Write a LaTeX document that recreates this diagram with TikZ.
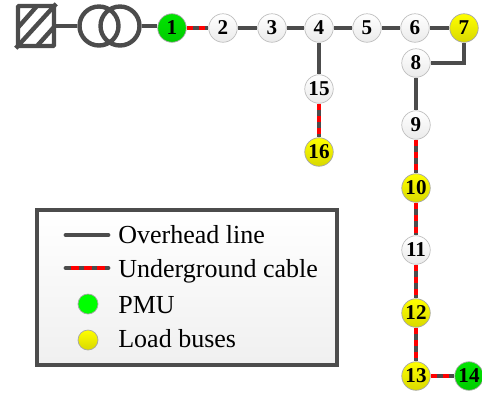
\documentclass[tikz,border=0pt]{standalone}
\usepackage{fontspec}
\setmainfont{Liberation Serif}
\usetikzlibrary{shadows}
\tikzset{
  ohl/.style={draw=black!70,line width=2.7pt},
  cable/.style={ohl,postaction={draw=red,line width=2pt,dash pattern=on 0.13cm off 0.11cm}},
  bus/.style={circle,draw=black!25,line width=0.4pt,minimum size=0.57cm,inner sep=0pt,
    top color=white,bottom color=black!8,font=\fontsize{12}{12}\selectfont\bfseries},
  pmu/.style={bus,top color=green!90!black,bottom color=green!80!black,draw=black!35},
  load/.style={bus,top color=yellow,bottom color=yellow!85!black,draw=black!35},
  legtext/.style={anchor=base west,inner sep=0pt,font=\fontsize{14.8}{14.8}\selectfont},
  legdot/.style={circle,minimum size=0.4cm,inner sep=0pt,line width=0.4pt},
  symb/.style={draw=black!70,line width=2.5pt},
}
\begin{document}
\begin{tikzpicture}[x=0.02cm,y=-0.02cm,line cap=butt]
\useasboundingbox (0,0) rectangle (482,397);
% source and transformer
\node[symb,minimum width=0.72cm,minimum height=0.8cm,inner sep=0pt,rounded corners=0.5pt] (src) at (36,26) {};
\draw[symb] (src.south west) -- (src.north east);
\draw[symb] (18.5,27) -- (37,6);
\draw[symb] (37,46) -- (54,27);
\node[symb,circle,minimum size=0.78cm,inner sep=0pt] (tr1) at (99,26) {};
\node[symb,circle,minimum size=0.78cm,inner sep=0pt] (tr2) at (120,26) {};
% buses
\node[pmu] (b1) at (172,28) {1};
\node[bus] (b2) at (223,28) {2};
\node[bus] (b3) at (272,28) {3};
\node[bus] (b4) at (319,28) {4};
\node[bus] (b5) at (367,28) {5};
\node[bus] (b6) at (415,28) {6};
\node[load] (b7) at (464,28) {7};
\node[bus] (b8) at (416,63) {8};
\node[bus] (b9) at (416,125) {9};
\node[load] (b10) at (416,188) {10};
\node[bus] (b11) at (416,250) {11};
\node[load] (b12) at (416,313) {12};
\node[load] (b13) at (416,376) {13};
\node[pmu] (b14) at (469,376) {14};
\node[bus] (b15) at (319,89) {15};
\node[load] (b16) at (319,152) {16};
% lines
\draw[ohl] (src) -- (tr1);
\draw[ohl] (tr2.east) -- (tr2.east -| b1.west);
\draw[cable] (b1) -- (b2);
\draw[ohl] (b2) -- (b3);
\draw[ohl] (b3) -- (b4);
\draw[ohl] (b4) -- (b5);
\draw[ohl] (b5) -- (b6);
\draw[ohl] (b6) -- (b7);
\draw[ohl] (b7.south) |- (b8.east);
\draw[ohl] (b8) -- (b9);
\draw[cable] (b9) -- (b10);
\draw[cable] (b10) -- (b11);
\draw[cable] (b11) -- (b12);
\draw[cable] (b12) -- (b13);
\draw[cable] (b13) -- (b14);
\draw[ohl] (b4) -- (b15);
\draw[cable] (b15) -- (b16);
% legend
\node[symb,minimum width=6.0cm,minimum height=3.1cm,inner sep=0pt,
  top color=white,bottom color=black!6,drop shadow={shadow xshift=0.3pt,shadow yshift=-0.8pt,opacity=0.3}] (leg) at (187,287.5) {};
\coordinate (oh1) at (66,235);
\coordinate (oh2) at (108,235);
\coordinate (uc1) at (66,268);
\coordinate (uc2) at (108,268);
\draw[ohl,line cap=round] (oh1) -- (oh2);
\draw[ohl,line cap=round,postaction={draw=red,line width=2pt,line cap=butt,dash pattern=on 0.16cm off 0.1cm,dash phase=-0.1cm}] (uc1) -- (uc2);
\node[legdot,draw=black!35,fill=green] (legpmu) at (88,304) {};
\node[legdot,draw=black!35,top color=yellow,bottom color=yellow!85!black] (legload) at (88,340) {};
\node[legtext] (t1) at (118,243) {Overhead line};
\node[legtext] (t2) at (118,277) {Underground cable};
\node[legtext] (t3) at (118,313) {PMU};
\node[legtext] (t4) at (118,347) {Load buses};
\end{tikzpicture}
\end{document}
